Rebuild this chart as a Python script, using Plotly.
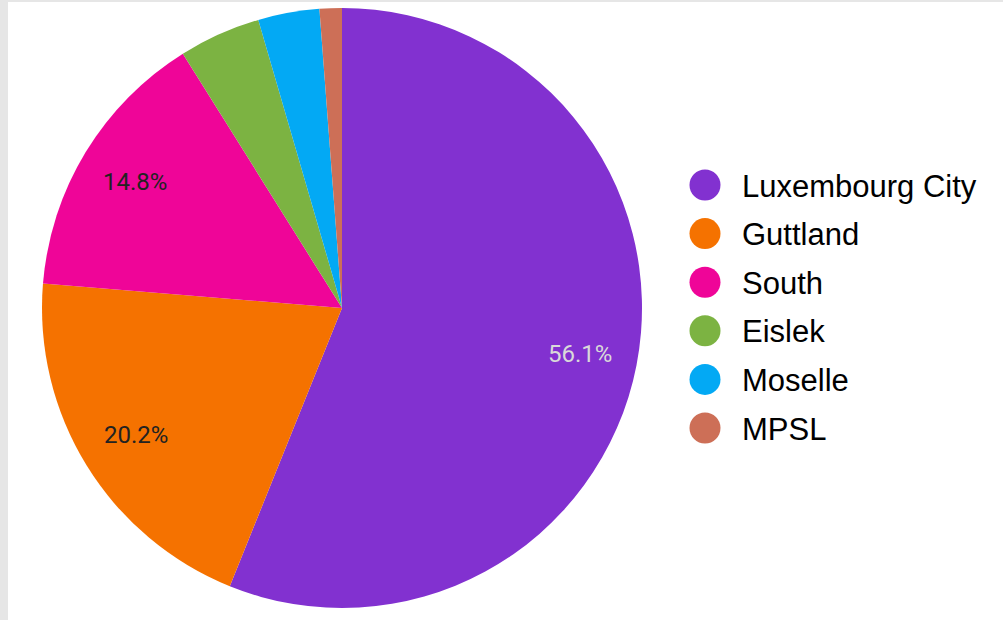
import math
import plotly.graph_objects as go

regions = ["Luxembourg City", "Guttland", "South", "Eislek", "Moselle", "MPSL"]
shares = [56.1, 20.2, 14.8, 4.4, 3.3, 1.2]
colors = ["#8231d0", "#f57200", "#ef0598", "#7cb342", "#03a9f4", "#cd6f57"]
label_colors = ["#d9d9d9", "#222222", "#222222", "#222222", "#222222", "#222222"]
show_label = [True, True, True, False, False, False]

W, H = 1003, 620
CX, CY, R = 342, 308, 300

fig = go.Figure()

fig.add_trace(go.Pie(
    labels=regions,
    values=shares,
    sort=False,
    direction="clockwise",
    rotation=0,
    marker=dict(colors=colors, line=dict(width=0)),
    textinfo="none",
    hoverinfo="label+percent",
    showlegend=False,
    domain=dict(x=[(CX - R) / W, (CX + R) / W], y=[(H - CY - R) / H, (H - CY + R) / H]),
))

# slice percentage labels, placed at ~0.81 R along each slice's mid-angle
total = sum(shares)
cum = 0.0
for name, v, c, show in zip(regions, shares, label_colors, show_label):
    mid = (cum + v / 2) / total * 2 * math.pi
    cum += v
    if not show:
        continue
    fig.add_annotation(
        x=CX + 0.807 * R * math.sin(mid), y=CY - 0.807 * R * math.cos(mid),
        xref="x", yref="y", text=f"{v / total * 100:.1f}%", showarrow=False,
        xanchor="center", yanchor="middle",
        font=dict(family="Roboto", size=24, color=c),
    )

# custom legend with large circle markers
leg_y = [185 + 48.6 * i for i in range(len(regions))]
fig.add_trace(go.Scatter(
    x=[705] * len(regions),
    y=leg_y,
    mode="markers",
    marker=dict(symbol="circle", size=31, color=colors, line=dict(width=0)),
    hoverinfo="skip",
    showlegend=False,
))
for name, y in zip(regions, leg_y):
    fig.add_annotation(
        x=740, y=y + 1, xref="x", yref="y",
        text=name, showarrow=False, xanchor="left", yanchor="middle",
        font=dict(family="Liberation Sans, Arial", size=31, color="#000000"),
    )

fig.update_layout(
    width=W, height=H,
    margin=dict(l=0, r=0, t=0, b=0),
    paper_bgcolor="#e6e6e6",
    plot_bgcolor="rgba(0,0,0,0)",
    xaxis=dict(visible=False, range=[0, W], domain=[0, 1], fixedrange=True),
    yaxis=dict(visible=False, range=[H, 0], domain=[0, 1], fixedrange=True),
    shapes=[dict(type="rect", xref="paper", yref="paper",
                 x0=8 / W, x1=1, y0=0, y1=(H - 2) / H,
                 fillcolor="#ffffff", line=dict(width=0), layer="below")],
)

fig.write_html(
    "out.html",
    config={"displayModeBar": False},
    post_script="document.body.style.margin='0';document.body.style.overflow='hidden';",
)
